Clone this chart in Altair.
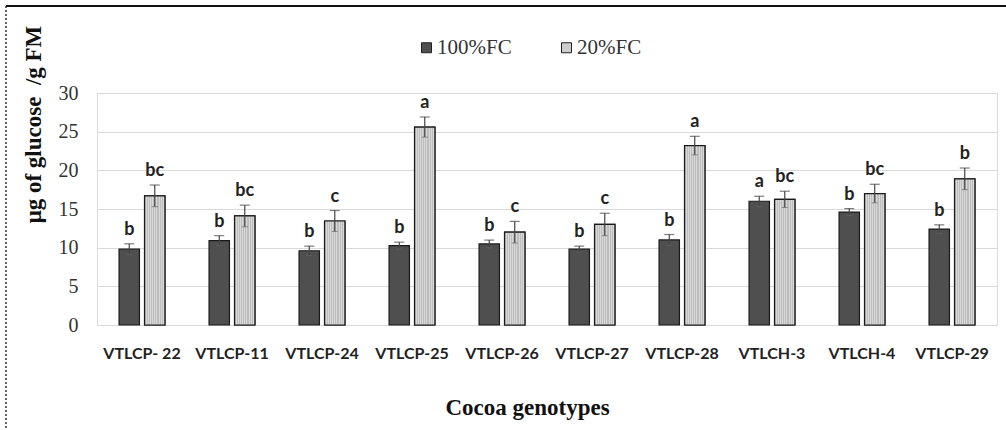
import altair as alt
import pandas as pd

# Glucose content of cocoa genotypes under two watering regimes
genotypes = ["VTLCP- 22", "VTLCP-11", "VTLCP-24", "VTLCP-25", "VTLCP-26",
             "VTLCP-27", "VTLCP-28", "VTLCH-3", "VTLCH-4", "VTLCP-29"]
treatments = ["100%FC", "20%FC"]

fc100 = [9.8, 10.9, 9.6, 10.26, 10.48, 9.8, 11.0, 16.0, 14.6, 12.4]
fc100_err = [0.7, 0.65, 0.6, 0.45, 0.5, 0.4, 0.7, 0.65, 0.45, 0.55]
fc20 = [16.7, 14.1, 13.45, 25.6, 12.0, 13.0, 23.2, 16.25, 17.0, 18.9]
fc20_err = [1.4, 1.4, 1.35, 1.3, 1.4, 1.45, 1.2, 1.05, 1.2, 1.4]

letters100 = ["b", "b", "b", "b", "b", "b", "b", "a", "b", "b"]
letters20 = ["bc", "bc", "c", "a", "c", "c", "a", "bc", "bc", "b"]

y_ticks = [0, 5, 10, 15, 20, 25, 30]

rows = []
for g, v, e, l in zip(genotypes, fc100, fc100_err, letters100):
    rows.append({"genotype": g, "treatment": treatments[0], "value": v,
                 "lo": v - e, "hi": v + e, "letter": l})
for g, v, e, l in zip(genotypes, fc20, fc20_err, letters20):
    rows.append({"genotype": g, "treatment": treatments[1], "value": v,
                 "lo": v - e, "hi": v + e, "letter": l})
df = pd.DataFrame(rows)

serif = "Liberation Serif"
sans = "Lato"

x_enc = alt.X(
    "genotype:N", sort=genotypes,
    scale=alt.Scale(paddingInner=0.49, paddingOuter=0.245),
    axis=alt.Axis(
        title="Cocoa genotypes", labelAngle=0, labelFont=sans, labelFontWeight="bold",
        labelFontSize=16, labelColor="#222", labelPadding=20, ticks=False, domain=False,
        titleFont=serif, titleFontSize=23, titleFontWeight="bold", titleColor="#111",
        titleX=430, titleY=82, titleBaseline="middle", titleAlign="center",
    ),
)
xoff_enc = alt.XOffset("treatment:N", sort=treatments,
                       scale=alt.Scale(domain=treatments, paddingInner=0.2))
y_enc = alt.Y(
    "value:Q", scale=alt.Scale(domain=[0, 30]),
    axis=alt.Axis(
        values=y_ticks, tickCount=7, labelOverlap=False,
        title="\u03bcg of glucose\u00a0 /g FM", labelFont=serif, labelFontSize=20,
        labelColor="#333", labelPadding=19, ticks=False, domain=False,
        grid=True, gridColor="#d9d9d9", gridWidth=1,
        titleFont=serif, titleFontSize=23, titleFontWeight="bold", titleColor="#111",
        titleX=-64, titleY=31, titleAngle=270, titleBaseline="middle", titleAlign="center",
    ),
)

base = alt.Chart(df)

bars = base.mark_bar(stroke="#1a1a1a", strokeWidth=1.2).encode(
    x=x_enc, xOffset=xoff_enc, y=y_enc,
    color=alt.Color(
        "treatment:N",
        scale=alt.Scale(domain=treatments, range=["#4f4f4f", "#cdcdcd"]),
        legend=alt.Legend(
            title=None, orient="none", legendX=319, legendY=-56, direction="horizontal",
            symbolType="square", symbolSize=100, symbolStrokeColor="#222",
            symbolStrokeWidth=1, labelFont=serif, labelFontSize=21, labelColor="#333",
            labelOffset=0, columnPadding=44,
        ),
    ),
)

# fine stippled texture on the drought-stressed bars
stops = []
n_stripes = 11
for i in range(n_stripes):
    a = i / n_stripes
    m = (i + 0.5) / n_stripes
    b = (i + 1) / n_stripes
    stops += [
        alt.GradientStop(offset=a, color="#d8d8d8"),
        alt.GradientStop(offset=m, color="#d8d8d8"),
        alt.GradientStop(offset=m, color="#bdbdbd"),
        alt.GradientStop(offset=b, color="#bdbdbd"),
    ]
texture = alt.LinearGradient(gradient="linear", stops=stops, x1=0, x2=1, y1=0, y2=0)

textured = base.transform_filter(alt.datum.treatment == treatments[1]).mark_bar(
    fill=texture, stroke="#1a1a1a", strokeWidth=1.2
).encode(x=alt.X("genotype:N", sort=genotypes), xOffset=xoff_enc, y="value:Q")

err_rule = base.mark_rule(color="#444", strokeWidth=1.2).encode(
    x=alt.X("genotype:N", sort=genotypes), xOffset=xoff_enc, y="lo:Q", y2="hi:Q"
)
cap_top = base.mark_tick(color="#444", size=10, thickness=1.2, orient="horizontal").encode(
    x=alt.X("genotype:N", sort=genotypes), xOffset=xoff_enc, y="hi:Q"
)
cap_bottom = base.mark_tick(color="#666", size=6, thickness=1, orient="horizontal").encode(
    x=alt.X("genotype:N", sort=genotypes), xOffset=xoff_enc, y="lo:Q"
)

labels = base.mark_text(
    font=sans, fontWeight="bold", fontSize=18, color="#222",
    baseline="alphabetic", dy=-9,
).encode(
    x=alt.X("genotype:N", sort=genotypes), xOffset=xoff_enc, y="hi:Q", text="letter:N"
)

# figure frame: solid top edge, dotted left edge
frame_data = alt.Data(values=[{}])
top_edge = alt.Chart(frame_data).mark_rule(color="#111", strokeWidth=2).encode(
    x=alt.value(-91), x2=alt.value(909), y=alt.value(-87)
)
left_edge = alt.Chart(frame_data).mark_rule(
    color="#333", strokeWidth=1.5, strokeDash=[2, 2]
).encode(x=alt.value(-91), y=alt.value(-87), y2=alt.value(340))

chart = alt.layer(
    bars, textured, err_rule, cap_top, cap_bottom, labels, top_edge, left_edge
).properties(
    width=900, height=232,
    padding={"left": 97, "top": 93, "right": 9, "bottom": 105},
    autosize="none",
).configure_view(stroke=None).configure(background="white")

chart.save("out.html", embed_options={"renderer": "svg", "actions": False})
